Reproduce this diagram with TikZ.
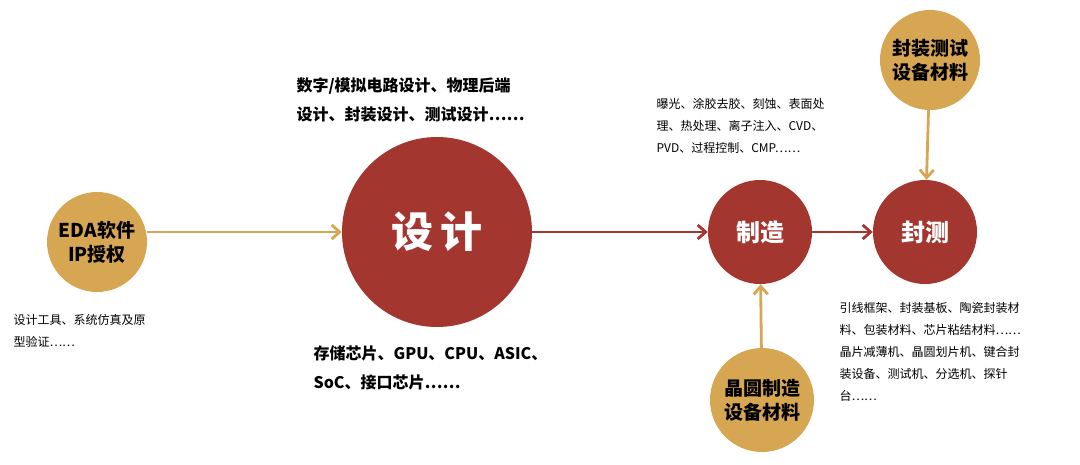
\documentclass[tikz,border=0pt]{standalone}
\usepackage{fontspec}
\setmainfont{Noto Sans CJK SC}
\usetikzlibrary{arrows.meta}
\definecolor{gold}{RGB}{214,166,82}
\definecolor{dred}{RGB}{163,55,48}
\begin{document}
\begin{tikzpicture}[x=1pt,y=-1pt,
  gc/.style={circle,fill=gold,inner sep=0pt,align=center,font=\fontsize{19}{24}\selectfont\bfseries},
  rc/.style={circle,fill=dred,inner sep=0pt,align=center,text=white,font=\fontsize{24}{28}\selectfont\bfseries},
  ga/.style={draw=gold,line width=2.8pt,-{Straight Barb[length=8pt,width=14pt]}},
  ra/.style={draw=dred,line width=2.8pt,-{Straight Barb[length=8pt,width=14pt]}},
  big/.style={anchor=north west,align=left,font=\fontsize{16}{29}\selectfont\bfseries},
  sm/.style={anchor=north west,align=left,font=\fontsize{12}{22}\selectfont}]
\useasboundingbox (0,0) rectangle (1080,464);
\node[gc,minimum size=100pt] (eda) at (97,242) {EDA软件\\IP授权};
\node[rc,minimum size=190pt,font=\fontsize{42}{46}\selectfont\bfseries] (sj) at (437,232) {设\,计};
\node[rc,minimum size=104pt] (zz) at (760,232) {制造};
\node[rc,minimum size=104pt] (fc) at (925,232) {封测};
\node[gc,minimum size=100pt] (top) at (930,60) {封装测试\\设备材料};
\node[gc,minimum size=104pt] (bot) at (762,400) {晶圆制造\\设备材料};
\draw[ga] (eda.east |- sj.west) -- (sj.west);
\draw[ra] (sj) -- (zz);
\draw[ra] (zz) -- (fc);
\draw[ga] (top) -- (fc);
\draw[ga] (bot) -- (zz);
\node[big] (t1) at (293,74) {数字/模拟电路设计、物理后端\\设计、封装设计、测试设计……};
\node[big] (t2) at (310,342) {存储芯片、GPU、CPU、ASIC、\\SoC、接口芯片……};
\node[sm] (t3) at (653,95) {曝光、涂胶去胶、刻蚀、表面处\\理、热处理、离子注入、CVD、\\PVD、过程控制、CMP……};
\node[sm] (t4) at (10,311) {设计工具、系统仿真及原\\型验证……};
\node[sm] (t5) at (836,299) {引线框架、封装基板、陶瓷封装材\\料、包装材料、芯片粘结材料……\\晶片减薄机、晶圆划片机、键合封\\装设备、测试机、分选机、探针\\台……};
\end{tikzpicture}
\end{document}
